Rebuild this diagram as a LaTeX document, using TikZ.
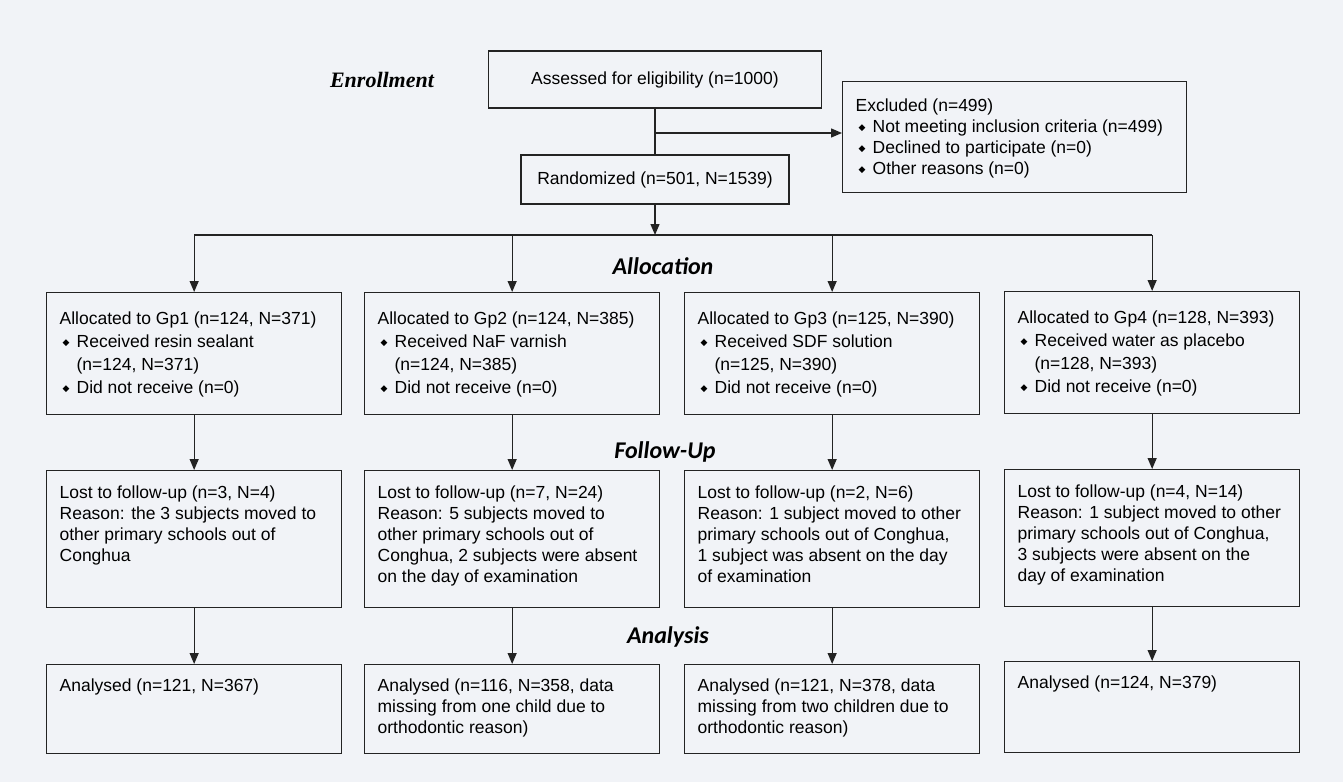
\documentclass[tikz,border=0pt]{standalone}
\usepackage{fontspec}
\setmainfont{Liberation Sans}
\newfontfamily\timesfont{Liberation Serif}
\newfontfamily\stagefont{Carlito}
\newfontfamily\symfont{DejaVu Sans}
\usepackage{xcolor}
\usetikzlibrary{arrows.meta, positioning}

\definecolor{paper}{RGB}{241,243,247}
\definecolor{ink}{RGB}{35,35,35}

% small diamond bullet and a bulleted line with hanging indent
\newcommand{\dia}{\raisebox{2pt}{\symfont\fontsize{9}{9}\selectfont ◆}}
\newcommand{\bul}[1]{\par\hangindent=17pt\hspace*{3pt}\makebox[14pt][l]{\dia}#1}
% text cell of a box: [first baseline]{width}{height}{text}
\newcommand{\cell}[4][29]{\hspace*{13pt}\parbox[t][#3pt][t]{\dimexpr#2pt-20pt\relax}{\raggedright\rule{0pt}{#1pt}#4}\hspace*{7pt}}

\begin{document}
\begin{tikzpicture}[x=1pt, y=-1pt,
  every node/.style={font=\fontsize{17.5}{21}\selectfont},
  box/.style={draw=ink, line width=1.3pt, inner sep=0pt, anchor=north west},
  cbox/.style={draw=ink, line width=1.3pt, inner sep=0pt},
  alloc/.style={font=\fontsize{17.5}{23}\selectfont},
  stage/.style={font=\stagefont\bfseries\itshape\fontsize{24}{24}\selectfont},
  enrol/.style={font=\timesfont\bfseries\itshape\fontsize{22}{22}\selectfont},
  link/.style={draw=ink, line width=1.3pt},
  arr/.style={draw=ink, line width=1.3pt, -{Triangle[length=11pt,width=9pt]}}]
  \useasboundingbox (0,0) rectangle (1343,782);
  \fill[paper] (0,0) rectangle (1343,782);
  % ---------- ENROLLMENT ----------
  \node[enrol] (enrol) at (382,80) {Enrollment};
  \node[cbox, minimum width=333pt, minimum height=57pt] (asse) at (655,79.5) {Assessed for eligibility (n=1000)};
  \node[box] (excl) at (842,81) {\cell[30]{344}{111}{Excluded (n=499)
    \bul{Not meeting inclusion criteria (n=499)}
    \bul{Declined to participate (n=0)}
    \bul{Other reasons (n=0)}}};
  \node[cbox, minimum width=268pt, minimum height=49pt] (rand) at (655,179.5) {Randomized (n=501, N=1539)};
  \coordinate (br) at (655,133);
  \coordinate (hl) at (655,235);
  \draw[link] (asse) -- (rand);
  \draw[arr] (br) -- (br -| excl.west);
  \draw[arr] (rand) -- (hl);
  % ---------- ALLOCATION ----------
  \node[stage] (lalloc) at (663,266) {Allocation};
  \node[box, alloc] (a1) at (46,292) {\cell[32]{295}{122}{Allocated to Gp1 (n=124, N=371)
    \bul{Received resin sealant\newline(n=124, N=371)}
    \bul{Did not receive (n=0)}}};
  \node[box, alloc] (a2) at (364,292) {\cell[32]{295}{122}{Allocated to Gp2 (n=124, N=385)
    \bul{Received NaF varnish\newline(n=124, N=385)}
    \bul{Did not receive (n=0)}}};
  \node[box, alloc] (a3) at (684,292) {\cell[32]{295}{122}{Allocated to Gp3 (n=125, N=390)
    \bul{Received SDF solution\newline(n=125, N=390)}
    \bul{Did not receive (n=0)}}};
  \node[box, alloc] (a4) at (1004,291) {\cell[32]{295}{122}{Allocated to Gp4 (n=128, N=393)
    \bul{Received water as placebo\newline(n=128, N=393)}
    \bul{Did not receive (n=0)}}};
  \draw[link] (a1.north |- hl) -- (a4.north |- hl);
  \foreach \i in {1,...,4} \draw[arr] (a\i.north |- hl) -- (a\i);
  % ---------- FOLLOW-UP ----------
  \node[stage] (lfollow) at (665,452) {Follow-Up};
  \node[box] (f1) at (46,470) {\cell[28]{295}{137}{Lost to follow-up (n=3, N=4)\\Reason: the 3 subjects moved to\\other primary schools out of\\Conghua}};
  \node[box] (f2) at (364,470) {\cell[28]{295}{137}{Lost to follow-up (n=7, N=24)\\Reason: 5 subjects moved to\\other primary schools out of\\Conghua, 2 subjects were absent\\on the day of examination}};
  \node[box] (f3) at (684,470) {\cell[28]{295}{137}{Lost to follow-up (n=2, N=6)\\Reason: 1 subject moved to other\\primary schools out of Conghua,\\1 subject was absent on the day\\of examination}};
  \node[box] (f4) at (1004,469) {\cell[28]{295}{137}{Lost to follow-up (n=4, N=14)\\Reason: 1 subject moved to other\\primary schools out of Conghua,\\3 subjects were absent on the\\day of examination}};
  % ---------- ANALYSIS ----------
  \node[stage] (lanal) at (668,637) {Analysis};
  \node[box] (n1) at (46,664) {\cell[27]{295}{89}{Analysed (n=121, N=367)}};
  \node[box] (n2) at (364,664) {\cell[27]{295}{89}{Analysed (n=116, N=358, data\\missing from one child due to\\orthodontic reason)}};
  \node[box] (n3) at (684,664) {\cell[27]{295}{89}{Analysed (n=121, N=378, data\\missing from two children due to\\orthodontic reason)}};
  \node[box] (n4) at (1004,661) {\cell[27]{295}{91}{Analysed (n=124, N=379)}};
  \foreach \i in {1,...,4} {
    \draw[arr] (a\i) -- (f\i);
    \draw[arr] (f\i) -- (n\i);
  }
\end{tikzpicture}
\end{document}
